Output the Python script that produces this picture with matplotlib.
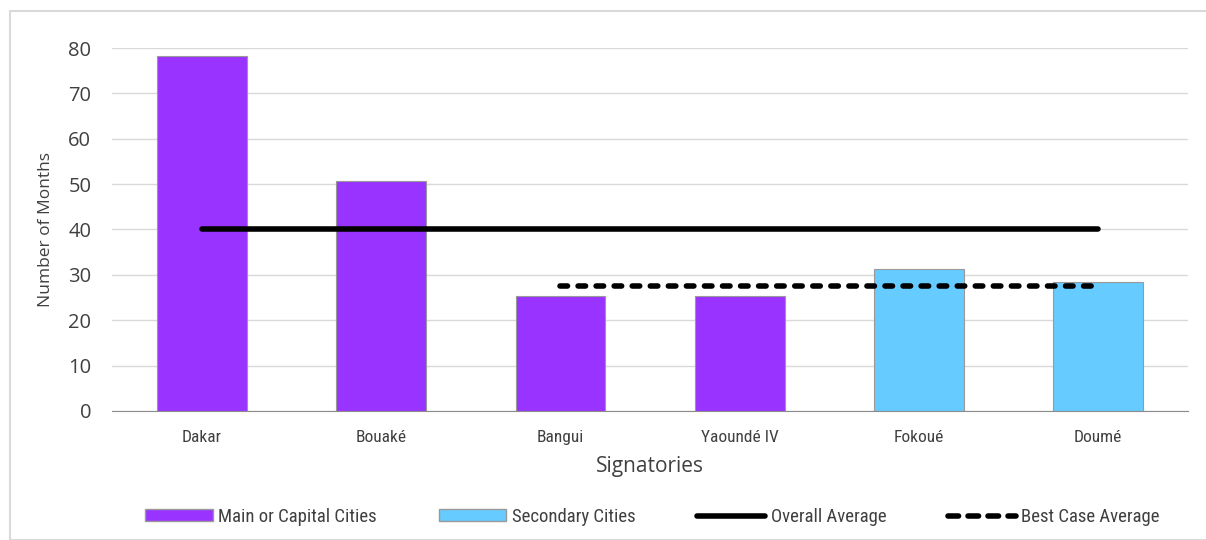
import matplotlib.pyplot as plt
from matplotlib.patches import Patch, Rectangle
from matplotlib.lines import Line2D

plt.rcParams['font.family'] = ['Roboto Condensed', 'Roboto', 'DejaVu Sans']
wide = ['Open Sans', 'DejaVu Sans']

# months to sign, per city
cities = ['Dakar', 'Bouaké', 'Bangui', 'Yaoundé IV', 'Fokoué', 'Doumé']
months = [78.2, 50.8, 25.3, 25.3, 31.4, 28.4]
city_type = ['main', 'main', 'main', 'main', 'secondary', 'secondary']
overall_avg = 40
best_case_avg = 27.6
best_case_from = 'Bangui'

purple = '#9933ff'
blue = '#66ccff'
text_col = '#404040'
colors = [purple if t == 'main' else blue for t in city_type]

fig = plt.figure(figsize=(12.06, 5.4), dpi=100)
ax = fig.add_axes([0.093, 0.239, 0.892, 0.672])

x = list(range(len(cities)))
ax.bar(x, months, width=0.5, color=colors, edgecolor='#999999', linewidth=0.8, zorder=2)

ax.plot([x[0], x[-1]], [overall_avg] * 2, color='black', lw=4,
        solid_capstyle='round', zorder=3)
i0 = cities.index(best_case_from)
ax.plot([x[i0], x[-1]], [best_case_avg] * 2, color='black', lw=4,
        dashes=(1.35, 1.9), dash_capstyle='round', zorder=3)

ax.set_xlim(-0.5, len(cities) - 0.5)
ax.set_ylim(0, 80)
ax.set_yticks(range(0, 81, 10))
ax.set_xticks(x)
ax.set_xticklabels(cities, fontsize=12.5, color=text_col)
ax.tick_params(axis='y', length=0, pad=15)
for lbl in ax.get_yticklabels():
    lbl.set_family(wide)
    lbl.set_fontsize(14.5)
    lbl.set_color(text_col)
ax.tick_params(axis='x', length=0, pad=14)
ax.grid(axis='y', color='#d9d9d9', lw=1, zorder=0)
for s in ['top', 'right', 'left']:
    ax.spines[s].set_visible(False)
ax.spines['bottom'].set_color('#8c8c8c')

ax.set_xlabel('Signatories', fontsize=15, color=text_col, labelpad=8, family=wide)
ax.set_ylabel('Number of Months', fontsize=12.5, color=text_col, labelpad=10, family=wide)

handles = [
    Patch(facecolor=purple, edgecolor='#999999', label='Main or Capital Cities'),
    Patch(facecolor=blue, edgecolor='#999999', label='Secondary Cities'),
    Line2D([], [], color='black', lw=4, solid_capstyle='round', label='Overall Average'),
    Line2D([], [], color='black', lw=4, dashes=(1.9, 1.7), dash_capstyle='round',
           label='Best Case Average'),
]
fig.legend(handles=handles, loc='center', bbox_to_anchor=(0.541, 0.043), ncol=4,
           frameon=False, fontsize=13.5, handlelength=3.6, handleheight=0.55,
           columnspacing=3.3, handletextpad=0.3, labelcolor=text_col)

fig.add_artist(Rectangle((10 / 1206, 0), 1.0, 1 - 11 / 540, transform=fig.transFigure,
                         fill=False, edgecolor='#d9d9d9', lw=1.5))

fig.savefig('out.png', dpi=100)
